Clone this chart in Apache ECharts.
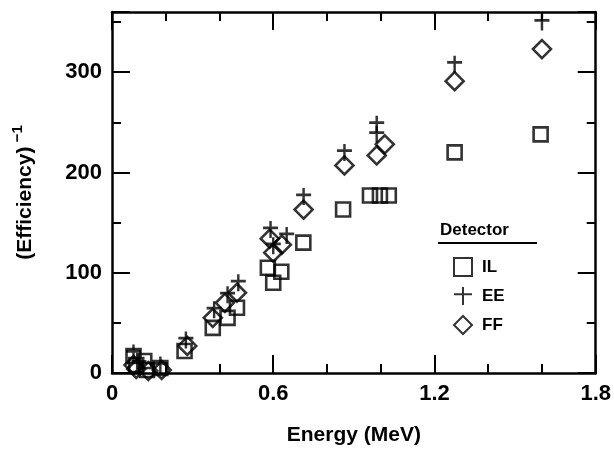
<!DOCTYPE html>
<html>
<head>
<meta charset="utf-8">
<title>Efficiency vs Energy</title>
<script src="https://cdn.jsdelivr.net/npm/echarts@6/dist/echarts.min.js"></script>
<style>
  html, body { margin: 0; padding: 0; background: #fff; }
  #chart { width: 614px; height: 451px; }
</style>
</head>
<body>
<div id="chart"></div>
<script>
// data: [energy MeV, 1/efficiency]
var seriesNames = ['IL', 'EE', 'FF'];
var ilData = [
    [0.08, 17], [0.09, 8], [0.12, 12], [0.13, 3], [0.18, 5],
    [0.27, 22], [0.375, 45], [0.43, 55], [0.465, 65],
    [0.58, 105], [0.6, 90], [0.63, 101], [0.712, 130], [0.86, 163],
    [0.96, 177], [0.997, 177], [1.03, 177], [1.275, 220], [1.595, 238]
];
var eeData = [
    [0.08, 20], [0.1, 10], [0.18, 8], [0.275, 33], [0.38, 63],
    [0.43, 78], [0.47, 90], [0.59, 143], [0.6, 127], [0.65, 137],
    [0.713, 176], [0.865, 220], [0.985, 238], [0.985, 248],
    [1.275, 308], [1.6, 350]
];
var ffData = [
    [0.08, 8], [0.09, 4], [0.135, 2], [0.185, 3], [0.28, 27],
    [0.375, 55], [0.42, 70], [0.465, 80], [0.587, 134], [0.6, 120],
    [0.632, 128], [0.713, 163], [0.865, 207], [0.985, 217], [1.015, 228],
    [1.275, 291], [1.6, 323]
];

var font = 'Liberation Sans';
var myChart = echarts.init(document.getElementById('chart'));

function markerStyle() {
    return {color: 'rgba(0,0,0,0)', borderColor: '#000', borderWidth: 2.6};
}

// shared frame look
var lineStyle = {color: '#000', width: 2.5};
var tickStyle = {inside: true, length: 18, lineStyle: {color: '#000', width: 2}};
var minorStyle = {show: true, length: 9, lineStyle: {color: '#000', width: 2}};

var option = {
    animation: false,
    grid: {left: 112, right: 18, top: 12, bottom: 78, show: false},
    legend: {
        orient: 'vertical',
        left: 448,
        top: 252,
        itemGap: 9,
        itemWidth: 18,
        itemHeight: 18,
        data: seriesNames,
        textStyle: {fontFamily: font, fontWeight: 'bold', fontSize: 17, color: '#000', padding: [0, 0, 0, 5]}
    },
    graphic: [
        {
            type: 'text', left: 440, top: 222,
            style: {text: 'Detector', fontFamily: font, fontWeight: 'bold', fontSize: 17, fill: '#000'}
        },
        {
            type: 'line', shape: {x1: 438, y1: 243, x2: 537, y2: 243},
            style: {stroke: '#000', lineWidth: 2}
        }
    ],
    xAxis: [{
        type: 'value',
        min: 0, max: 1.8, interval: 0.6,
        name: 'Energy (MeV)',
        nameLocation: 'middle',
        nameGap: 52,
        nameTextStyle: {fontFamily: font, fontWeight: 'bold', fontSize: 21, color: '#000'},
        axisLine: {onZero: false, lineStyle: lineStyle},
        axisTick: tickStyle,
        minorTick: Object.assign({splitNumber: 3}, minorStyle),
        axisLabel: {fontFamily: font, fontWeight: 'bold', fontSize: 22, color: '#000', margin: 10},
        splitLine: {show: false}
    }, {
        type: 'value', position: 'top',
        min: 0, max: 1.8, interval: 0.6,
        axisLine: {onZero: false, lineStyle: lineStyle},
        axisTick: tickStyle,
        minorTick: Object.assign({splitNumber: 3}, minorStyle),
        axisLabel: {show: false},
        splitLine: {show: false}
    }],
    yAxis: [{
        type: 'value',
        min: 0, max: 360, interval: 100,
        name: '{a|(Efficiency)}{b| −1}',
        nameLocation: 'middle',
        nameGap: 72,
        nameRotate: 90,
        nameTextStyle: {
            color: '#000',
            rich: {
                a: {fontFamily: font, fontWeight: 'bold', fontSize: 21, color: '#000', lineHeight: 30},
                b: {fontFamily: font, fontWeight: 'bold', fontSize: 15, color: '#000', verticalAlign: 'top', lineHeight: 30, padding: [0, 0, 12, 0]}
            }
        },
        axisLine: {onZero: false, lineStyle: lineStyle},
        axisTick: tickStyle,
        minorTick: Object.assign({splitNumber: 2}, minorStyle),
        axisLabel: {fontFamily: font, fontWeight: 'bold', fontSize: 22, color: '#000', margin: 10, showMaxLabel: false},
        splitLine: {show: false}
    }, {
        type: 'value', position: 'right',
        min: 0, max: 360, interval: 100,
        axisLine: {show: true, onZero: false, lineStyle: lineStyle},
        axisTick: Object.assign({show: true}, tickStyle),
        minorTick: Object.assign({splitNumber: 2}, minorStyle),
        axisLabel: {show: false},
        splitLine: {show: false}
    }],
    series: [
        {
            name: 'IL', type: 'scatter', data: ilData,
            symbol: 'rect', symbolSize: 14,
            itemStyle: markerStyle()
        },
        {
            name: 'EE', type: 'scatter', data: eeData,
            symbol: 'path://M5,0L5,10M0,4L10,4', symbolSize: [15, 17],
            itemStyle: markerStyle()
        },
        {
            name: 'FF', type: 'scatter', data: ffData,
            symbol: 'diamond', symbolSize: 18,
            itemStyle: markerStyle()
        }
    ]
};

myChart.setOption(option);
</script>
</body>
</html>
